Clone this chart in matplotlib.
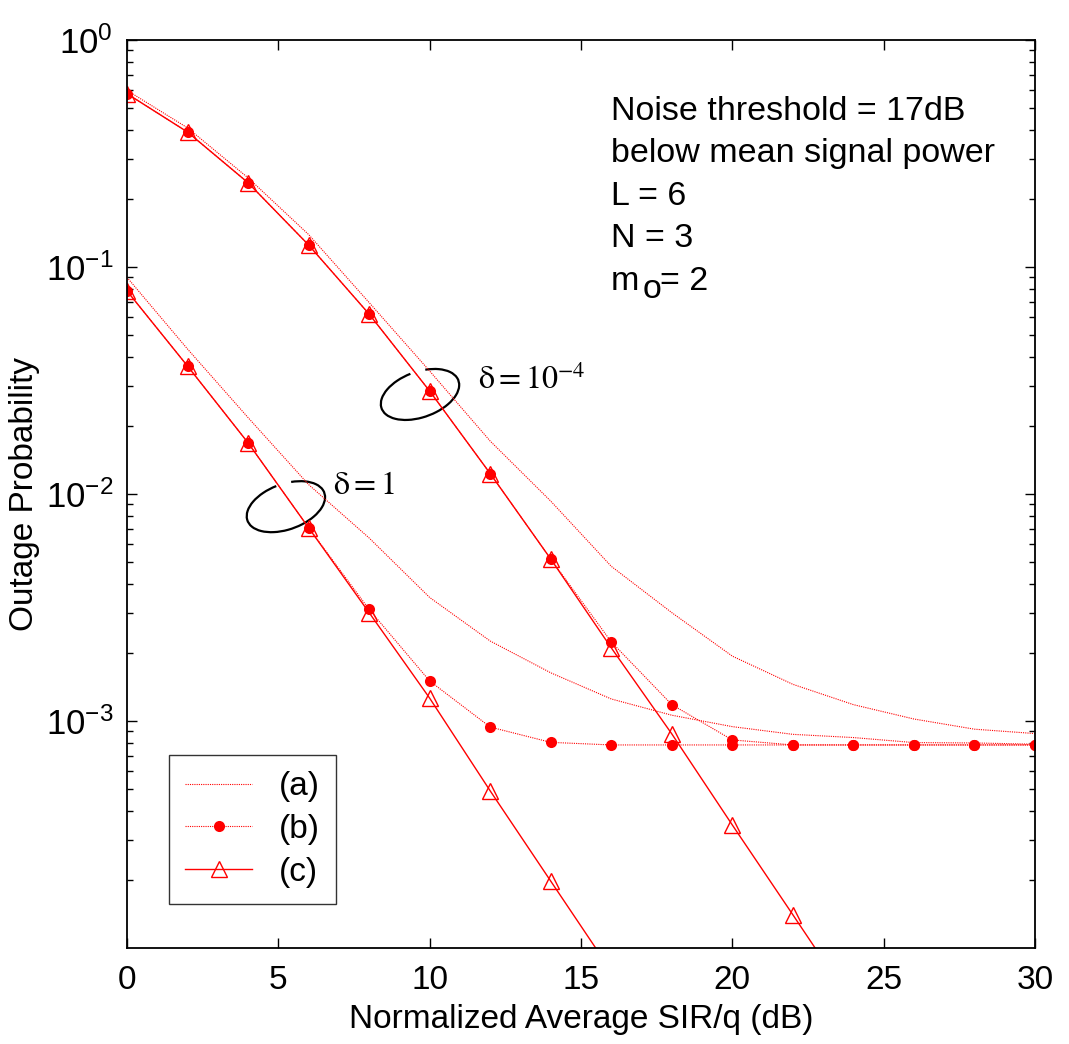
import numpy as np
import matplotlib.pyplot as plt
from matplotlib.patches import Arc
from matplotlib.ticker import LogLocator, NullFormatter, NullLocator

plt.rcParams['font.family'] = ['Liberation Sans', 'DejaVu Sans']
plt.rcParams['mathtext.fontset'] = 'custom'
plt.rcParams['mathtext.rm'] = 'Liberation Sans'
plt.rcParams['mathtext.it'] = 'Liberation Sans:italic'
plt.rcParams['mathtext.bf'] = 'Liberation Sans:bold'
plt.rcParams['axes.unicode_minus'] = False

nan = np.nan
sir = [0, 2, 4, 6, 8, 10, 12, 14, 16, 18, 20, 22, 24, 26, 28, 30]

# delta = 10^-4
a_hi = [0.60, 0.41, 0.247, 0.139, 0.0697, 0.0348, 0.0171, 0.0093, 0.0048, 0.0030,
        0.00193, 0.00145, 0.00118, 0.00102, 0.00092, 0.00088]
b_hi = [0.580, 0.393, 0.235, 0.125, 0.062, 0.0284, 0.0123, 0.00517, 0.00223, 0.00118,
        0.000825, 0.000784, 0.000784, 0.000784, 0.000784, 0.000784]
c_hi = [0.580, 0.393, 0.235, 0.125, 0.062, 0.0284, 0.0123, 0.00517, 0.0021, 0.000877,
        0.000348, 0.000140, 0.000056, nan, nan, nan]

# delta = 1
a_lo = [0.090, 0.0435, 0.0217, 0.0110, 0.0064, 0.0035, 0.00225, 0.00163, 0.00125, 0.00106,
        0.000944, 0.000873, 0.000845, 0.000803, 0.00080, 0.00079]
b_lo = [0.0784, 0.0366, 0.0168, 0.0071, 0.0031, 0.0015, 0.00094, 0.000805, 0.000784, 0.000784,
        0.000784, 0.000784, 0.000784, 0.000784, 0.000784, 0.000784]
c_lo = [0.0784, 0.0366, 0.0168, 0.0071, 0.0030, 0.00126, 0.000492, 0.000197, 0.000079, nan,
        nan, nan, nan, nan, nan, nan]

info_lines = ['Noise threshold = 17dB', 'below mean signal power', 'L = 6', 'N = 3']

red = '#ff0000'
dot = (0, (1, 1))

fig = plt.figure(figsize=(10.69, 10.44), dpi=100)
ax = fig.add_axes([0.1188, 0.092, 0.8494, 0.8697])

for a, b, c in [(a_hi, b_hi, c_hi), (a_lo, b_lo, c_lo)]:
    la, = ax.plot(sir, a, color=red, lw=0.8, linestyle=dot, label='(a)')
    lb, = ax.plot(sir, b, color=red, lw=0.8, linestyle=dot, marker='o', ms=8,
                  mew=0, label='(b)')
    lc, = ax.plot(sir, c, color=red, lw=1.0, marker='^', ms=12, mfc='none',
                  mec=red, mew=1.0, label='(c)')

ax.set_yscale('log')
ax.set_xlim(0, 30)
ax.set_ylim(1e-4, 1)
ax.set_xticks([0, 5, 10, 15, 20, 25, 30])
ax.set_yticks([1e-3, 1e-2, 1e-1, 1])
ax.set_yticklabels([r'$\mathregular{10^{-3}}$', r'$\mathregular{10^{-2}}$',
                    r'$\mathregular{10^{-1}}$', r'$\mathregular{10^{0}}$'])
ax.yaxis.set_minor_locator(LogLocator(base=10, subs=np.arange(2, 10)))
ax.yaxis.set_minor_formatter(NullFormatter())
ax.xaxis.set_minor_locator(NullLocator())
ax.tick_params(which='both', direction='in', top=True, right=True, labelsize=24, width=1)
ax.tick_params(axis='y', labelsize=25)
ax.tick_params(which='major', length=7)
ax.tick_params(which='minor', length=4)
ax.tick_params(axis='x', pad=12)
ax.tick_params(axis='y', pad=10)
for s in ax.spines.values():
    s.set_linewidth(1.3)

ax.set_xlabel('Normalized Average SIR/q (dB)', fontsize=24, labelpad=6)
ax.set_ylabel('Outage Probability', fontsize=24, labelpad=4)

leg = ax.legend(handles=[la, lb, lc], loc='lower left', bbox_to_anchor=(0.046, 0.048),
                fontsize=24, frameon=True, fancybox=False, edgecolor='black',
                handlelength=2.0, handletextpad=0.8, borderpad=0.5, labelspacing=0.35,
                borderaxespad=0)
leg.get_frame().set_linewidth(1.0)

x0 = 0.533
for i, line in enumerate(info_lines):
    ax.text(x0, 0.912 - i * 0.0468, line, transform=ax.transAxes, fontsize=24.5,
            va='baseline', ha='left')
ym = 0.912 - 4 * 0.0468
ax.text(x0, ym, 'm', transform=ax.transAxes, fontsize=24.5, va='baseline')
ax.text(x0 + 0.0352, ym - 0.0088, 'o', transform=ax.transAxes, fontsize=24.5, va='baseline')
ax.text(x0 + 0.0545, ym, '= 2', transform=ax.transAxes, fontsize=24.5, va='baseline')

# ellipse markers for the two curve groups
for cx, cy in [(0.175, 0.486), (0.3227, 0.6096)]:
    ax.add_patch(Arc((cx, cy), 0.09, 0.05, angle=20, theta1=95, theta2=58,
                     transform=ax.transAxes, color='black', lw=1.6))

ax.text(0.3866, 0.6156, r'$\mathrm{\delta} = 10^{-4}$', transform=ax.transAxes,
        fontsize=23, va='baseline', math_fontfamily='stix')
ax.text(0.2269, 0.500, r'$\mathrm{\delta} = 1$', transform=ax.transAxes,
        fontsize=23, va='baseline', math_fontfamily='stix')

fig.savefig('out.png', dpi=100)
